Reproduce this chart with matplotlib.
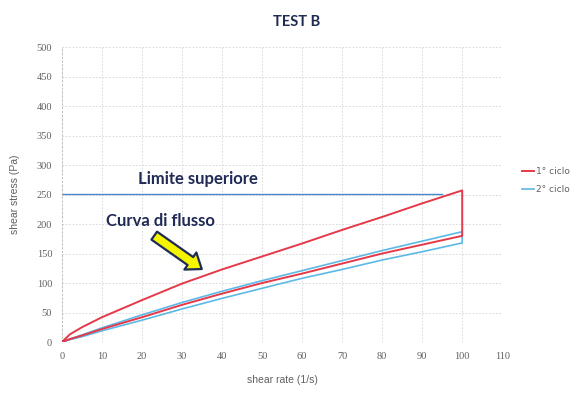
import numpy as np
import matplotlib
matplotlib.use('Agg')
import matplotlib.pyplot as plt

# --- values

rate = [0, 2, 5, 10, 20, 30, 40, 50, 60, 70, 80, 90, 100]  # shear rate (1/s)
red_up = [0, 13, 25, 42, 71, 99, 123, 145, 167, 190, 212, 235, 257]  # 1st cycle, ramp up
red_down = [0, 5, 11, 22, 42, 63, 82, 100, 116, 133, 150, 165, 180]  # 1st cycle, ramp down
blue_up = [0, 5, 12, 24, 46, 67, 86, 104, 121, 138, 155, 171, 187]  # 2nd cycle, ramp up
blue_down = [0, 4, 9, 19, 37, 56, 74, 91, 108, 123, 139, 153, 168]  # 2nd cycle, ramp down

limit = 251  # limite superiore
limit_end = 95

xticks = np.arange(0, 111, 10)
yticks = np.arange(0, 501, 50)

red = '#e5394a'
blue = '#5cb8e6'
navy = '#1f2a55'
grey = '#606060'

# --- figure

fig = plt.figure(figsize=(5.84, 3.97), dpi=100)
ax = fig.add_axes([0.106, 0.1385, 0.754, 0.743])

x = np.array(rate)
ax.plot(np.concatenate([x, x[::-1]]), np.concatenate([red_up, red_down[::-1]]),
        color=red, lw=1.4, label='1° ciclo', zorder=3)
ax.plot(np.concatenate([x, x[::-1]]), np.concatenate([blue_up, blue_down[::-1]]),
        color=blue, lw=1.2, label='2° ciclo', zorder=2)

ax.plot([0, limit_end], [limit, limit], color='#4a88cc', lw=1.0)

ax.set_xlim(0, 110)
ax.set_ylim(0, 500)
ax.set_xticks(xticks)
ax.set_yticks(yticks)
ax.grid(True, color='#d4d4d4', ls=(0, (2, 2)), lw=0.6)
for s in ax.spines.values():
    s.set_visible(False)
ax.axvline(0, color='#bbbbbb', ls=(0, (2, 2)), lw=0.7)
ax.axhline(0, color='#bbbbbb', ls=(0, (2, 2)), lw=0.7)
ax.tick_params(length=0, labelsize=7.5, labelcolor=grey, pad=7)
for lab in ax.get_xticklabels() + ax.get_yticklabels():
    lab.set_family('Liberation Serif')

ax.set_xlabel('shear rate (1/s)', fontsize=7.5, color=grey, family='Liberation Sans', labelpad=10)
ax.set_ylabel('shear stress (Pa)', fontsize=7.5, color=grey, family='Liberation Sans', labelpad=12)

fig.text(0.508, 0.945, 'TEST B', ha='center', va='center', fontsize=10.5,
         fontweight='bold', color=navy, family='Lato')

ax.text(34, 277, 'Limite superiore', ha='center', va='center', fontsize=12,
        fontweight='bold', color=navy, family='Lato')
ax.text(24.5, 205, 'Curva di flusso', ha='center', va='center', fontsize=12,
        fontweight='bold', color=navy, family='Lato')

ax.annotate('', xy=(35.5, 121), xytext=(22.5, 183),
            arrowprops=dict(arrowstyle='simple,head_length=1.0,head_width=1.5,tail_width=0.7',
                            fc='#f5f500', ec=navy, lw=1.6))

leg = fig.legend(loc='center left', bbox_to_anchor=(0.88, 0.545), frameon=False,
                 fontsize=6.5, handlelength=1.3, handletextpad=0.3, labelspacing=1.0)
for t in leg.get_texts():
    t.set_color(grey)

fig.savefig('out.png', dpi=100)
